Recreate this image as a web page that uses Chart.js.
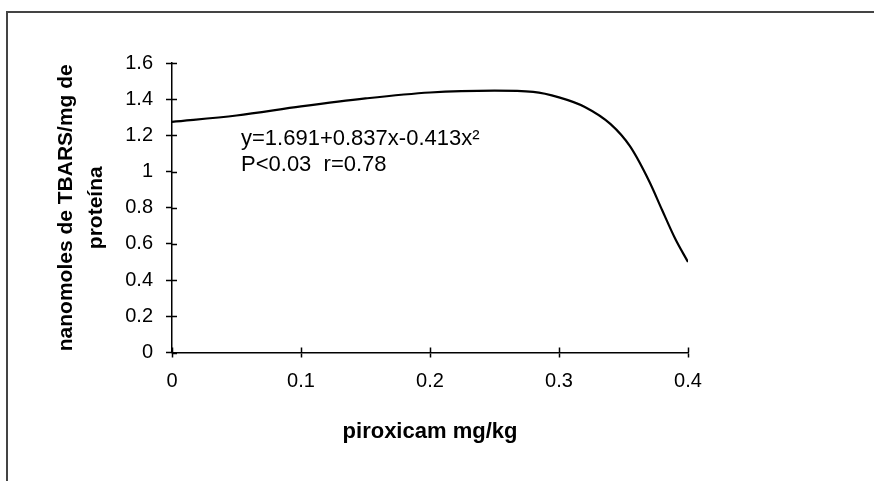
<!DOCTYPE html>
<html>
<head>
<meta charset="utf-8">
<script src="https://cdn.jsdelivr.net/npm/chart.js@4/dist/chart.umd.min.js"></script>
<style>
  html, body { margin: 0; padding: 0; background: #fff; }
  #wrap { position: relative; width: 874px; height: 481px; overflow: hidden; }
  #frame { position: absolute; left: 6px; top: 11px; width: 900px; height: 500px;
           border-top: 2px solid #444; border-left: 2px solid #444; }
  #chart { position: absolute; left: 0; top: 0; }
</style>
</head>
<body>
<div id="wrap">
  <div id="frame"></div>
  <canvas id="chart" width="874" height="481"></canvas>
</div>
<script>
// curve
const doses = [0, 0.05, 0.1, 0.15, 0.2, 0.25, 0.28, 0.3, 0.32, 0.34, 0.355, 0.37, 0.38, 0.39, 0.4]
const tbars = [1.275, 1.31, 1.36, 1.404, 1.437, 1.447, 1.44, 1.41, 1.357, 1.262, 1.14, 0.945, 0.786, 0.63, 0.5]

const xTitle = 'piroxicam mg/kg'
const yTitle = ['nanomoles de TBARS/mg de', 'proteína']
const equation = ['y=1.691+0.837x-0.413x²', 'P<0.03  r=0.78']

const FONT = '"Liberation Sans", Arial, sans-serif'

// small tick parts that stick into the plot area, plus the fit equation
const crossTicks = {
    id: 'crossTicks',
    afterDraw(chart) {
        const {ctx, scales: {x, y}} = chart
        ctx.save()
        ctx.strokeStyle = '#000'
        ctx.lineWidth = 1.5
        ctx.beginPath()
        y.ticks.forEach(t => {
            const py = Math.round(y.getPixelForValue(t.value)) + 0.5
            ctx.moveTo(x.left, py)
            ctx.lineTo(x.left + 5, py)
        })
        x.ticks.forEach(t => {
            const px = Math.round(x.getPixelForValue(t.value)) + 0.5
            ctx.moveTo(px, y.bottom)
            ctx.lineTo(px, y.bottom - 5)
        })
        ctx.stroke()

        ctx.fillStyle = '#000'
        ctx.font = '22px ' + FONT
        ctx.textBaseline = 'middle'
        ctx.textAlign = 'left'
        const tx = x.getPixelForValue(0.0535)
        ctx.fillText(equation[0], tx, y.getPixelForValue(1.18))
        ctx.fillText(equation[1], tx, y.getPixelForValue(1.034))
        ctx.restore()
    }
}

const fmt = v => String(+Number(v).toFixed(2))

const config = {
    type: 'line',
    data: {
        datasets: [{
            data: doses.map((d, i) => ({x: d, y: tbars[i]})),
            borderColor: '#000',
            borderWidth: 2.2,
            pointRadius: 0,
            fill: false,
            cubicInterpolationMode: 'monotone'
        }]
    },
    options: {
        responsive: false,
        animation: false,
        layout: {
            padding: {left: 0, top: 63, right: 186, bottom: 0}
        },
        plugins: {
            legend: {display: false},
            tooltip: {enabled: false}
        },
        scales: {
            x: {
                type: 'linear',
                min: 0,
                max: 0.4,
                afterFit: s => { s.height = 128.5 },
                ticks: {
                    stepSize: 0.1,
                    color: '#000',
                    padding: 12,
                    callback: fmt,
                    font: {family: FONT, size: 20}
                },
                grid: {
                    drawOnChartArea: false,
                    color: '#000',
                    tickLength: 5,
                    tickWidth: 1.5
                },
                border: {color: '#000', width: 1.5},
                title: {
                    display: true,
                    text: xTitle,
                    color: '#000',
                    font: {family: FONT, size: 22, weight: 'bold'},
                    padding: {top: 0, bottom: 36}
                }
            },
            y: {
                min: 0,
                max: 1.6,
                afterFit: s => { s.width = 172 },
                ticks: {
                    stepSize: 0.2,
                    color: '#000',
                    padding: 13,
                    callback: fmt,
                    font: {family: FONT, size: 20}
                },
                grid: {
                    drawOnChartArea: false,
                    color: '#000',
                    tickLength: 6,
                    tickWidth: 1.5
                },
                border: {color: '#000', width: 1.5},
                title: {
                    display: true,
                    text: yTitle,
                    color: '#000',
                    font: {family: FONT, size: 21, weight: 'bold', lineHeight: 1.45},
                    padding: {top: 51, bottom: 0}
                }
            }
        }
    },
    plugins: [crossTicks]
}

new Chart(document.getElementById('chart'), config)
</script>
</body>
</html>
